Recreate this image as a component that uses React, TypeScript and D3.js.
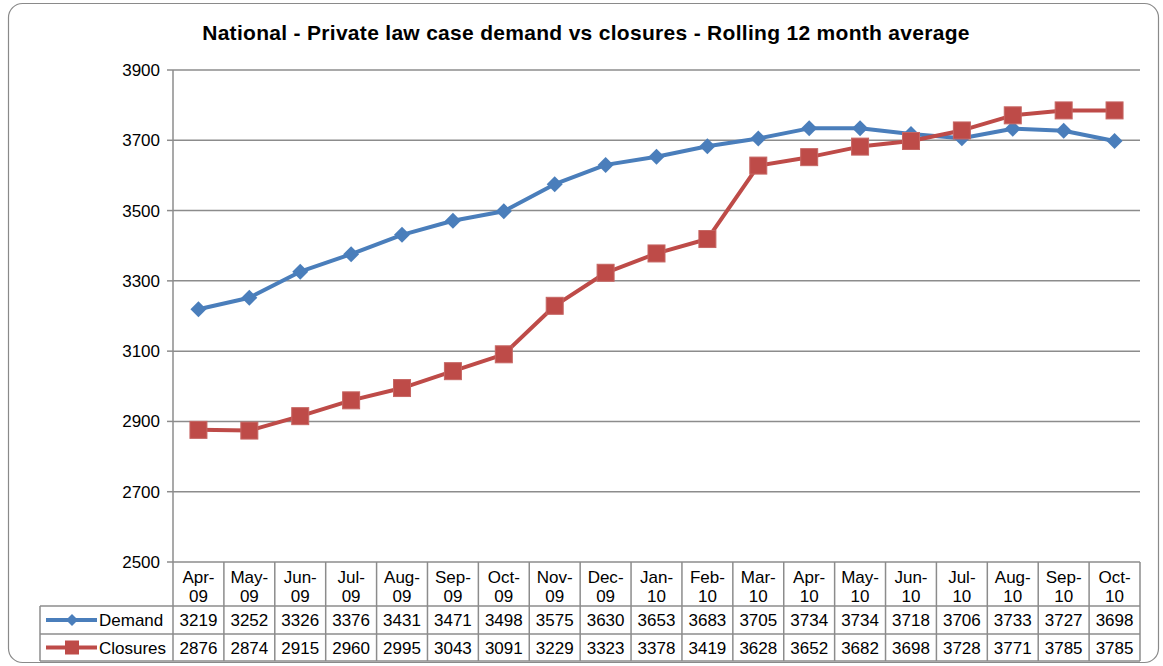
import React from "react";
import * as d3 from "d3";

const months = ["Apr-09", "May-09", "Jun-09", "Jul-09", "Aug-09", "Sep-09", "Oct-09", "Nov-09", "Dec-09", "Jan-10", "Feb-10", "Mar-10", "Apr-10", "May-10", "Jun-10", "Jul-10", "Aug-10", "Sep-10", "Oct-10"];
const demand = [3219, 3252, 3326, 3376, 3431, 3471, 3498, 3575, 3630, 3653, 3683, 3705, 3734, 3734, 3718, 3706, 3733, 3727, 3698];
const closures = [2876, 2874, 2915, 2960, 2995, 3043, 3091, 3229, 3323, 3378, 3419, 3628, 3652, 3682, 3698, 3728, 3771, 3785, 3785];
const yTicks = [2500, 2700, 2900, 3100, 3300, 3500, 3700, 3900];

const title = "National - Private law case demand vs closures - Rolling 12 month average";
const blue = "#4a7ebb";
const red = "#be4b48";
const grid = "#8c8c8c";
const font = "'Liberation Sans', Arial, sans-serif";

const W = 1163, H = 666;
const left = 173, right = 1140, top = 70, bottom = 562;
const tableLeft = 40;
const rowTops = [562, 606, 634, 661];
const fs = 17;

const App = () => {
  const x = d3.scaleBand<string>().domain(months).range([left, right]);
  const y = d3.scaleLinear().domain([2500, 3900]).range([bottom, top]);
  const cx = (m: string) => (x(m) as number) + x.bandwidth() / 2;
  const line = d3.line<number>().x((_, i) => cx(months[i])).y(d => y(d));

  const series = [
    { name: "Demand", values: demand, color: blue, marker: "diamond" },
    { name: "Closures", values: closures, color: red, marker: "square" },
  ];

  const marker = (kind: string, px: number, py: number, color: string, key: string) =>
    kind === "diamond" ? (
      <path key={key} d={`M${px},${py - 8}L${px + 8},${py}L${px},${py + 8}L${px - 8},${py}Z`} fill={color} />
    ) : (
      <rect key={key} x={px - 8.5} y={py - 8.5} width={17} height={17} fill={color} stroke="#c66663" strokeWidth={1} />
    );

  return (
    <svg width={W} height={H} style={{ position: "absolute", left: 0, top: 0, fontFamily: font }}>
      <rect x={0} y={0} width={W} height={H} fill="#fff" />
      <rect x={8.5} y={3.5} width={1150} height={659} rx={14} fill="#fff" stroke="#8a8a8a" strokeWidth={1.2} />
      <text x={586} y={40} textAnchor="middle" fontSize={21} fontWeight="bold" fill="#000" letterSpacing={0.3}>{title}</text>

      {yTicks.map(t => (
        <g key={t}>
          {t !== 2500 && <line x1={left} x2={right} y1={y(t)} y2={y(t)} stroke={grid} strokeWidth={1.5} />}
          <line x1={left - 6} x2={left} y1={y(t)} y2={y(t)} stroke={grid} strokeWidth={1.5} />
          <text x={160} y={y(t) + 6} textAnchor="end" fontSize={fs} fill="#000">{t}</text>
        </g>
      ))}
      <line x1={left} x2={left} y1={top} y2={bottom} stroke={grid} strokeWidth={1.5} />

      {/* data table */}
      <g stroke={grid} strokeWidth={1.5} fill="none">
        <line x1={left} x2={right} y1={rowTops[0]} y2={rowTops[0]} />
        {rowTops.slice(1).map(r => (
          <line key={r} x1={tableLeft} x2={right} y1={r} y2={r} />
        ))}
        <line x1={tableLeft} x2={tableLeft} y1={rowTops[1]} y2={rowTops[3]} />
        {months.map(m => (
          <line key={m} x1={x(m) as number} x2={x(m) as number} y1={rowTops[0]} y2={rowTops[3]} />
        ))}
        <line x1={right} x2={right} y1={rowTops[0]} y2={rowTops[3]} />
      </g>
      {months.map(m => {
        const [a, b] = m.split("-");
        return (
          <text key={m} x={cx(m)} textAnchor="middle" fontSize={fs} fill="#000">
            <tspan x={cx(m)} y={583}>{a}-</tspan>
            <tspan x={cx(m)} y={602}>{b}</tspan>
          </text>
        );
      })}
      {series.map((s, si) => {
        const yy = (rowTops[si + 1] + rowTops[si + 2]) / 2;
        return (
          <g key={s.name}>
            <line x1={46} x2={97} y1={yy} y2={yy} stroke={s.color} strokeWidth={4} />
            {s.marker === "diamond" ? (
              <path d={`M72,${yy - 6}L78,${yy}L72,${yy + 6}L66,${yy}Z`} fill={s.color} />
            ) : (
              <rect x={65} y={yy - 7} width={14} height={14} fill={s.color} />
            )}
            <text x={99} y={yy + 6} fontSize={fs} fill="#000">{s.name}</text>
            {s.values.map((v, i) => (
              <text key={i} x={cx(months[i])} y={yy + 6} textAnchor="middle" fontSize={fs} fill="#000">{v}</text>
            ))}
          </g>
        );
      })}

      {/* series */}
      {series.map(s => (
        <g key={s.name}>
          <path d={line(s.values) as string} fill="none" stroke={s.color} strokeWidth={4} strokeLinejoin="round" />
          {s.values.map((v, i) => marker(s.marker, cx(months[i]), y(v), s.color, `${s.name}${i}`))}
        </g>
      ))}
    </svg>
  );
};

export default App;
